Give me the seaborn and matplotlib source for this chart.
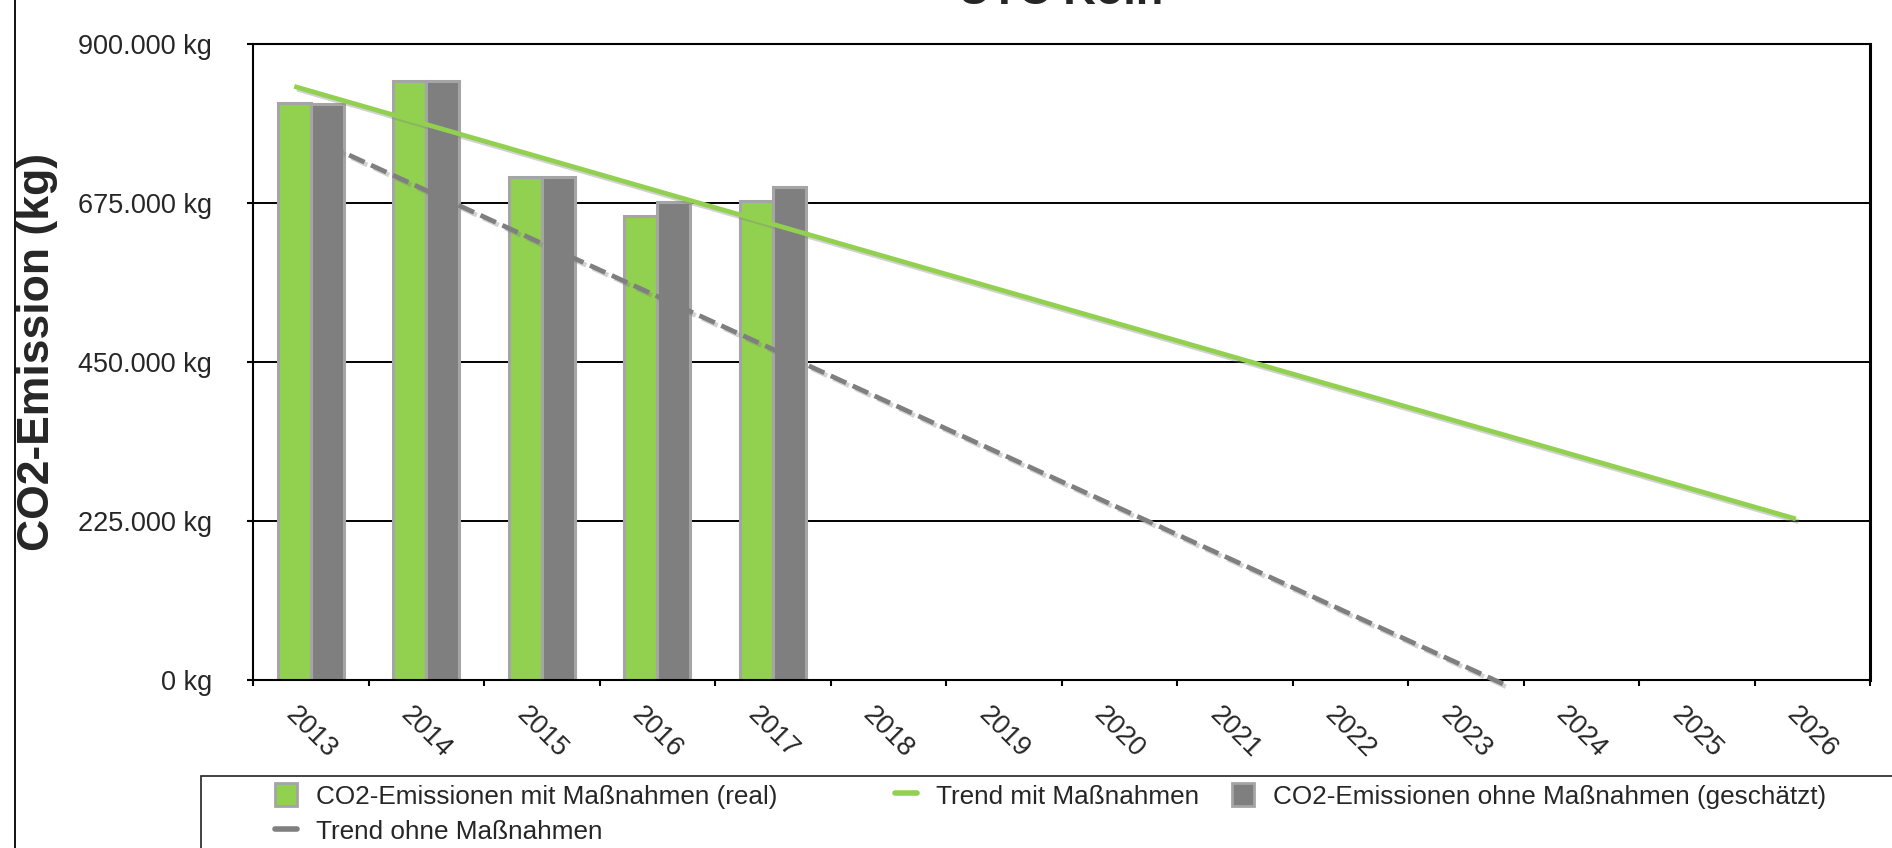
import numpy as np
import pandas as pd
import matplotlib
matplotlib.use('Agg')
import matplotlib.pyplot as plt
import matplotlib.patheffects as pe
from matplotlib.lines import Line2D
from matplotlib.patches import Patch, Rectangle
from matplotlib.ticker import FuncFormatter
import seaborn as sns

# data
years = [str(y) for y in range(2013, 2027)]
bar_years = ['2013', '2014', '2015', '2016', '2017']
mit_real = [817000, 848000, 712000, 656000, 678000]
ohne_geschaetzt = [815000, 848000, 712000, 676000, 697000]

trend_mit_years = [2013, 2026]
trend_mit = [840000, 228000]
trend_ohne_years = [2013, 2023.2]
trend_ohne = [757000, -7000]

y_ticks = [0, 225000, 450000, 675000, 900000]

lab_mit = 'CO2-Emissionen mit Maßnahmen (real)'
lab_ohne = 'CO2-Emissionen ohne Maßnahmen (geschätzt)'
lab_tmit = 'Trend mit Maßnahmen'
lab_tohne = 'Trend ohne Maßnahmen'

green = '#92d050'
gray = '#7f7f7f'
edge = '#a5a5a5'

df = pd.DataFrame({
    'Jahr': bar_years * 2,
    'Wert': mit_real + ohne_geschaetzt,
    'Reihe': [lab_mit] * 5 + [lab_ohne] * 5,
})

sns.set_theme(style='white')
plt.rcParams['font.family'] = ['Liberation Sans', 'DejaVu Sans']

W, H = 1892, 848
fig = plt.figure(figsize=(W / 100, H / 100), dpi=100)
ax = fig.add_axes([253 / W, 1 - 680 / H, (1870 - 253) / W, (680 - 44) / H])

bw = 0.57
sns.barplot(data=df, x='Jahr', y='Wert', hue='Reihe', order=years,
            hue_order=[lab_mit, lab_ohne], palette=[green, gray], saturation=1,
            width=bw, edgecolor=edge, linewidth=2.2, legend=False, ax=ax,
            zorder=2)

shadow = [pe.SimpleLineShadow(offset=(2, -2), shadow_color='gray', alpha=0.35),
          pe.Normal()]
off = bw / 4
xm = np.array(trend_mit_years) - 2013 - off
ax.plot(xm, trend_mit, color=green, lw=3.4, solid_capstyle='butt',
        path_effects=shadow, zorder=4)
xo = np.array(trend_ohne_years) - 2013 + off
ax.plot(xo, trend_ohne, color=gray, lw=3.4, dashes=(3.6, 1.5),
        path_effects=shadow, zorder=4, clip_on=False)

ax.set_xlim(-0.5, 13.5)
ax.set_ylim(0, 900000)
ax.set_yticks(y_ticks)
ax.yaxis.set_major_formatter(FuncFormatter(lambda v, p: f"{int(v):,}".replace(',', '.') + ' kg'))
ax.grid(axis='y', color='black', lw=1.4)
ax.set_axisbelow(True)

ax.set_xticks(np.arange(-0.5, 14, 1), minor=True)
ax.tick_params(axis='x', which='major', length=0, pad=16, labelsize=19.5)
ax.tick_params(axis='x', which='minor', length=4.5, width=1.5, direction='out',
               color='black', bottom=True)
ax.tick_params(axis='y', which='major', length=4.5, width=1.5, direction='out',
               color='black', left=True, pad=25, labelsize=19.5)
plt.setp(ax.get_xticklabels(), rotation=-45, ha='center', va='top')

for s in ['left', 'bottom', 'top']:
    ax.spines[s].set_color('black')
    ax.spines[s].set_linewidth(1.5)
ax.spines['right'].set_color('black')
ax.spines['right'].set_linewidth(2.2)

ax.set_xlabel('')
ax.set_ylabel('CO2-Emission (kg)', fontsize=32, fontweight='bold')
ax.yaxis.set_label_coords(-0.1206, 0.516)

fig.text(1061 / W, 1 - 4 / H, 'UTC Köln', ha='center', va='baseline',
         fontsize=32.5, fontweight='bold')

# legend, laid out row-wise like the original (three blocks at Excel's positions)
h_mit = Patch(facecolor=green, edgecolor=edge, linewidth=2)
h_ohne = Patch(facecolor=gray, edgecolor=edge, linewidth=2)
h_tmit = Line2D([], [], color=green, lw=4)
h_tohne = Line2D([], [], color=gray, lw=4)
leg_kw = dict(loc='upper left', bbox_transform=fig.transFigure, frameon=False,
              borderpad=0, borderaxespad=0, handlelength=0.85, handleheight=1.0,
              handletextpad=0.72, labelspacing=0.38, fontsize=18.8)
fig.legend([h_mit, h_tohne], [lab_mit, lab_tohne],
           bbox_to_anchor=(275 / W, 1 - 783 / H), **leg_kw)
fig.legend([h_tmit], [lab_tmit],
           bbox_to_anchor=(895 / W, 1 - 783 / H), **leg_kw)
fig.legend([h_ohne], [lab_ohne],
           bbox_to_anchor=(1232 / W, 1 - 783 / H), **leg_kw)

fig.add_artist(Rectangle((201 / W, -0.2), 1.0, 0.2 + 1 - 776 / H, fill=False,
                         edgecolor='#222222', lw=1.2, transform=fig.transFigure,
                         clip_on=False))
fig.add_artist(Line2D([15 / W, 15 / W], [0, 1], color='black', lw=1.3,
                      transform=fig.transFigure))

fig.savefig('out.png', dpi=100)
